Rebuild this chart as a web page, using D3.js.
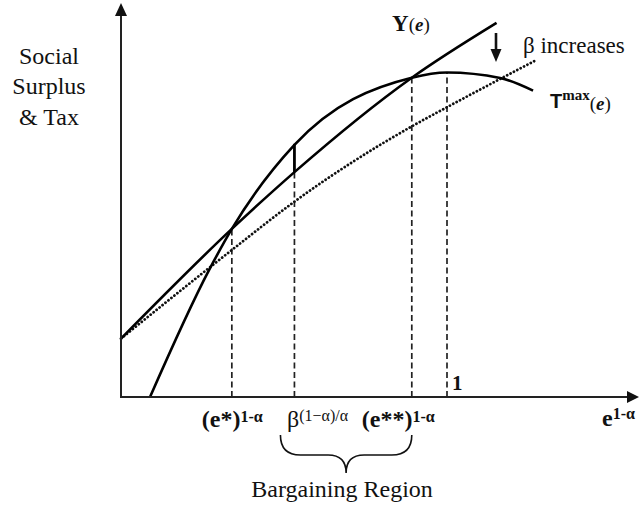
<!DOCTYPE html>
<html><head><meta charset="utf-8">
<script src="https://cdn.jsdelivr.net/npm/d3@7"></script>
<style>body{margin:0;background:#fff}svg{display:block}</style>
</head><body>
<svg id="c" width="639" height="506" font-family="Liberation Serif, DejaVu Serif, serif" fill="#111"></svg>
<script>
// ---- data (x in units of e^(1-α), where 1 = peak of T^max; y in units of T^max peak) ----
const upsilonX = [0, 0.34, 0.532, 0.892, 1.152];
const upsilonY = [0.18, 0.518, 0.693, 0.984, 1.153];
const lowerX = [0, 0.34, 0.532, 0.892, 1.0, 1.275];
const lowerY = [0.18, 0.453, 0.602, 0.834, 0.893, 1.039];
const tmaxX = [0.089, 0.27, 0.34, 0.532, 0.892, 1.0, 1.163, 1.264];
const tmaxY = [0, 0.391, 0.518, 0.777, 0.984, 1.0, 0.983, 0.944];
const guideX = [0.34, 0.532, 0.892, 1.0];
const guideTop = [0.518, 0.693, 0.984, 1.0];
const gapX = [0.532];           // vertical gap segment between Υ and T^max
const yLabel = ["Social", "Surplus", "& Tax"];

const SERIF = "Liberation Serif";
const svg = d3.select("#c");
const x = d3.scaleLinear().domain([0, 1]).range([121, 447]);
const y = d3.scaleLinear().domain([0, 1]).range([397, 72.5]);

const zip = (xs, ys) => xs.map((v, i) => [v, ys[i]]);
const line = d3.line().x(d => x(d[0])).y(d => y(d[1])).curve(d3.curveMonotoneX);

// dashed guides
svg.selectAll("line.guide").data(guideX).join("line")
  .attr("x1", d => x(d)).attr("x2", d => x(d))
  .attr("y1", y(0)).attr("y2", (d, i) => y(guideTop[i]))
  .attr("stroke", "#222").attr("stroke-width", 1.7).attr("stroke-dasharray", "6,3.5");

// dotted lower line
svg.append("path").attr("d", line(zip(lowerX, lowerY)))
  .attr("fill", "none").attr("stroke", "#111").attr("stroke-width", 2.8)
  .attr("stroke-linecap", "round").attr("stroke-dasharray", "0.01,3.8");

// Υ(e)
svg.append("path").attr("d", line(zip(upsilonX, upsilonY)))
  .attr("fill", "none").attr("stroke", "#000").attr("stroke-width", 2.6);

// T^max(e)
svg.append("path").attr("d", line(zip(tmaxX, tmaxY)))
  .attr("fill", "none").attr("stroke", "#000").attr("stroke-width", 2.6);

// gap segment
const interp = (xs, ys, v) => d3.scaleLinear().domain(xs).range(ys)(v);
svg.selectAll("line.gap").data(gapX).join("line")
  .attr("x1", d => x(d)).attr("x2", d => x(d))
  .attr("y1", d => y(interp(upsilonX, upsilonY, d)))
  .attr("y2", d => y(interp(tmaxX, tmaxY, d)) - 1)
  .attr("stroke", "#000").attr("stroke-width", 2.8);

// axes
const x0 = x(0), y0 = y(0);
svg.append("line").attr("x1", x0).attr("y1", y0 + 1).attr("x2", x0).attr("y2", 14)
  .attr("stroke", "#222").attr("stroke-width", 2);
svg.append("path").attr("d", `M${x0},3 L${x0 - 6},16 L${x0 + 6},16 Z`).attr("fill", "#111");
svg.append("line").attr("x1", x0 - 1).attr("y1", y0).attr("x2", 630).attr("y2", y0)
  .attr("stroke", "#222").attr("stroke-width", 2);
svg.append("path").attr("d", `M639,${y0} L627,${y0 - 6} L627,${y0 + 6} Z`).attr("fill", "#111");

// β increases arrow
svg.append("line").attr("x1", 496).attr("y1", 33).attr("x2", 496).attr("y2", 52)
  .attr("stroke", "#111").attr("stroke-width", 2.6);
svg.append("path").attr("d", "M496,62 L490.5,49 L501.5,49 Z").attr("fill", "#111");

function txt(px, py) {
  return svg.append("text").attr("x", px).attr("y", py).attr("font-family", SERIF).attr("fill", "#111");
}

// y-axis label
yLabel.forEach((d, i) => txt(49, 63.5 + i * 30.5).attr("text-anchor", "middle").attr("font-size", 24).text(d));

// curve labels
const tU = txt(392, 31);
tU.append("tspan").attr("font-size", 23).attr("font-weight", "bold").text("Υ");
tU.append("tspan").attr("font-size", 19).text("(");
tU.append("tspan").attr("font-size", 19).attr("font-style", "italic").attr("font-weight", "bold").text("e");
tU.append("tspan").attr("font-size", 19).text(")");

const tT = txt(550, 108);
tT.append("tspan").attr("font-family", "Liberation Sans, Arial, sans-serif").attr("font-weight", "bold").attr("font-size", 20).text("T");
tT.append("tspan").attr("font-size", 15).attr("font-weight", "bold").attr("y", 100).text("max");
tT.append("tspan").attr("font-size", 19).attr("y", 110).text("(");
tT.append("tspan").attr("font-size", 19).attr("font-style", "italic").attr("font-weight", "bold").text("e");
tT.append("tspan").attr("font-size", 19).text(")");

txt(523, 53).attr("font-size", 23).text("β increases");

txt(x(1) + 5, 390).attr("font-size", 21).attr("font-weight", "bold").text("1");

// x tick labels
function supLabel(px, base, supBase, main, sup, bold, mainSize) {
  const t = txt(px, base).attr("font-weight", bold ? "bold" : "normal");
  t.append("tspan").attr("font-size", mainSize).text(main);
  t.append("tspan").attr("font-size", 16).attr("y", supBase).text(sup);
}
supLabel(x(guideX[0]) - 30, 427, 422, "(e*)", "1-α", true, 24);
supLabel(x(guideX[1]) - 7.5, 427, 421, "β", "(1−α)/α", false, 24);
supLabel(x(guideX[2]) - 50, 427, 422, "(e**)", "1-α", true, 24);
supLabel(602, 426, 419, "e", "1-α", true, 24);

// brace
const bL = x(guideX[1]) - 14, bR = x(guideX[2]), bM = (bL + bR) / 2, bT = 435, bH = 455, bB = 473;
svg.append("path")
  .attr("d", `M${bL},${bT} Q${bL},${bH} ${bL + 20},${bH} L${bM - 18},${bH} Q${bM},${bH} ${bM},${bB} Q${bM},${bH} ${bM + 18},${bH} L${bR - 20},${bH} Q${bR},${bH} ${bR},${bT}`)
  .attr("fill", "none").attr("stroke", "#111").attr("stroke-width", 1.6);
txt(bM - 4, 497).attr("text-anchor", "middle").attr("font-size", 24).text("Bargaining Region");
</script>
</body></html>
